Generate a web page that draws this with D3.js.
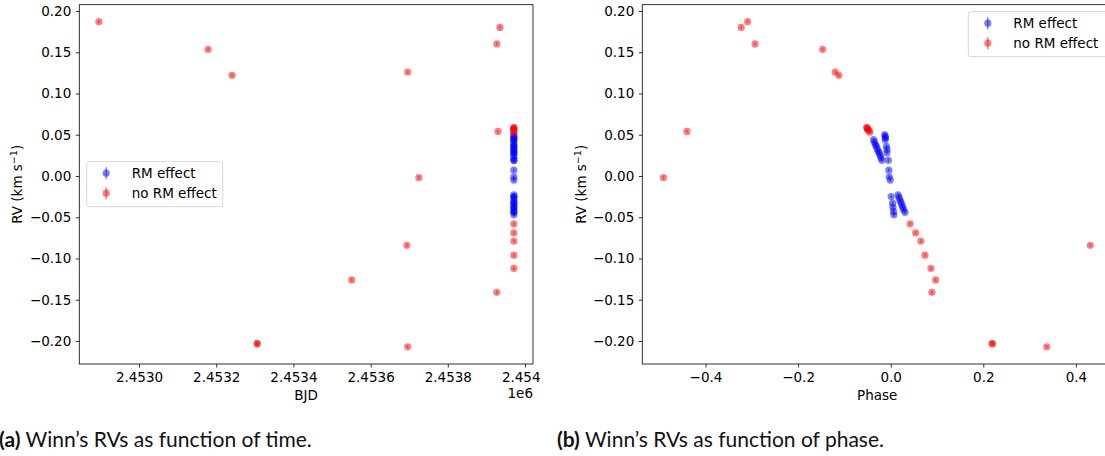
<!DOCTYPE html>
<html>
<head>
<meta charset="utf-8">
<script src="https://cdn.jsdelivr.net/npm/d3@7"></script>
<style>
  body { margin: 0; background: #fff; }
  svg text { font-family: "DejaVu Sans", sans-serif; fill: #000; }
  .caption { font-family: Lato, sans-serif; font-size: 21px; fill: #111; }
</style>
</head>
<body>
<svg id="chart" width="1105" height="456"></svg>
<script>
// Winn's RVs: points without RM effect (red) and during transit (blue)
const noRmBjd = [2452896, 2453179, 2453241, 2453306, 2453306, 2453551, 2453696, 2453694, 2453725, 2453696,
  2453927, 2453935, 2453930, 2453927, 2453971.2, 2453971.2, 2453971.2, 2453971.2, 2453971.2,
  2453971.0, 2453971.0, 2453971.0, 2453971.0, 2453971.0, 2453971.0];
const noRmPhase = [-0.309, -0.147, -0.112, 0.219, 0.220, 0.097, -0.120, 0.431, -0.491, 0.337,
  -0.293, -0.323, -0.440, 0.089, 0.042, 0.054, 0.065, 0.074, 0.087,
  -0.052, -0.051, -0.050, -0.049, -0.047, -0.045];
const noRmRv = [0.187, 0.1535, 0.122, -0.203, -0.2035, -0.126, 0.126, -0.084, -0.002, -0.207,
  0.160, 0.180, 0.054, -0.141, -0.058, -0.069, -0.079, -0.096, -0.112,
  0.059, 0.058, 0.057, 0.056, 0.055, 0.053];

const rmBjd = [2453971.05, 2453971.05, 2453971.06, 2453971.06, 2453971.07, 2453971.07, 2453971.07, 2453971.08,
  2453971.08, 2453971.09, 2453971.10, 2453971.10, 2453971.10, 2453971.10, 2453971.11, 2453971.11,
  2453971.11, 2453971.12, 2453971.12, 2453971.12, 2453971.12, 2453971.13, 2453971.13, 2453971.13,
  2453971.13, 2453971.14, 2453971.15, 2453971.15, 2453971.16, 2453971.16, 2453971.17, 2453971.17,
  2453971.18, 2453971.18];
const rmPhase = [-0.037, -0.035, -0.033, -0.031, -0.029, -0.027, -0.025, -0.023, -0.021, -0.019,
  -0.013, -0.012, -0.011, -0.012, -0.009, -0.008, -0.008, -0.005, -0.004, -0.003, -0.001,
  0.001, 0.004, 0.005, 0.006, 0.007, 0.016, 0.018, 0.020, 0.022, 0.024, 0.026, 0.028, 0.031];
const rmRv = [0.044, 0.041, 0.038, 0.036, 0.033, 0.030, 0.028, 0.025, 0.022, 0.019,
  0.050, 0.048, 0.046, 0.044, 0.036, 0.032, 0.028, 0.019, 0.007, -0.001, -0.005,
  -0.025, -0.033, -0.038, -0.043, -0.047, -0.023, -0.026, -0.029, -0.032, -0.035, -0.038, -0.041, -0.044];
const rvError = 0.002;

const yTicks = [-0.20, -0.15, -0.10, -0.05, 0.00, 0.05, 0.10, 0.15, 0.20];
const bjdTicks = [2453000, 2453200, 2453400, 2453600, 2453800, 2454000];
const phaseTicks = [-0.4, -0.2, 0.0, 0.2, 0.4];
const legendLabels = ["RM effect", "no RM effect"];
const captions = [["(a)", " Winn\u2019s RVs as function of time."], ["(b)", " Winn\u2019s RVs as function of phase."]];

const blue = "rgba(0,0,255,0.5)";
const red = "rgba(255,0,0,0.5)";

const svg = d3.select("#chart");

const yScale = d3.scaleLinear().domain([-0.2279, 0.2076]).range([364, 4.7]);

function panel(opts) {
  const g = svg.append("g");
  const clipId = "clip" + opts.id;
  svg.append("clipPath").attr("id", clipId + "p").append("rect")
    .attr("x", opts.clip[0]).attr("y", 0).attr("width", opts.clip[1] - opts.clip[0]).attr("height", 456);
  g.attr("clip-path", `url(#${clipId}p)`);

  const x = opts.x;
  const [x0, x1] = x.range();
  const [yb, yt] = yScale.range();

  // points
  const pts = g.append("g");
  function draw(xs, ys, col) {
    xs.forEach((xv, i) => {
      pts.append("line")
        .attr("x1", x(xv)).attr("x2", x(xv))
        .attr("y1", yScale(ys[i] - rvError)).attr("y2", yScale(ys[i] + rvError))
        .attr("stroke", col).attr("stroke-width", 1.5);
      pts.append("circle")
        .attr("cx", x(xv)).attr("cy", yScale(ys[i]))
        .attr("r", 3.6).attr("fill", col);
    });
  }
  draw(opts.blueX, rmRv, blue);
  draw(opts.redX, noRmRv, red);

  // spines
  g.append("rect").attr("x", x0).attr("y", yt).attr("width", x1 - x0).attr("height", yb - yt)
    .attr("fill", "none").attr("stroke", "#000").attr("stroke-width", 0.8);

  // axes
  const xAxis = d3.axisBottom(x).tickValues(opts.ticks).tickFormat(opts.fmt).tickSize(3.5).tickPadding(4.5);
  g.append("g").attr("transform", `translate(0,${yb})`).call(xAxis)
    .call(a => a.select(".domain").remove())
    .call(a => a.selectAll("text").attr("font-size", 13.5).attr("font-family", "DejaVu Sans"));

  const yAxis = d3.axisLeft(yScale).tickValues(yTicks).tickFormat(d3.format(".2f")).tickSize(3.5).tickPadding(4.5);
  g.append("g").attr("transform", `translate(${x0},0)`).call(yAxis)
    .call(a => a.select(".domain").remove())
    .call(a => a.selectAll("text").attr("font-size", 13.5).attr("font-family", "DejaVu Sans"));
  g.selectAll(".tick line").attr("stroke-width", 0.8);

  // axis labels
  g.append("text").attr("x", (x0 + x1) / 2).attr("y", 400).attr("text-anchor", "middle")
    .attr("font-size", 13.5).text(opts.xlabel);
  const yl = g.append("text").attr("transform", `translate(${opts.ylabelX},${(yt + yb) / 2}) rotate(-90)`)
    .attr("text-anchor", "middle").attr("font-size", 13.5);
  yl.append("tspan").text("RV (km s");
  yl.append("tspan").attr("dy", -5).attr("font-size", 9.5).text("\u22121");
  yl.append("tspan").attr("dy", 5).text(")");

  if (opts.offset) {
    g.append("text").attr("x", x1).attr("y", 398).attr("text-anchor", "end")
      .attr("font-size", 13.5).text(opts.offset);
  }

  // legend
  const L = opts.legend;
  const lg = g.append("g");
  lg.append("rect").attr("x", L.x).attr("y", L.y).attr("width", L.w).attr("height", 45)
    .attr("rx", 2.5).attr("fill", "rgba(255,255,255,0.8)").attr("stroke", "#ccc").attr("stroke-width", 0.8);
  [blue, red].forEach((col, i) => {
    const cy = L.y + 11.5 + i * 20;
    lg.append("line").attr("x1", L.x + 19.5).attr("x2", L.x + 19.5)
      .attr("y1", cy - 6).attr("y2", cy + 6).attr("stroke", col).attr("stroke-width", 1.5);
    lg.append("circle").attr("cx", L.x + 19.5).attr("cy", cy).attr("r", 3.6).attr("fill", col);
    lg.append("text").attr("x", L.x + 45).attr("y", cy + 5).attr("font-size", 13.5).text(legendLabels[i]);
  });
}

panel({
  id: "a",
  x: d3.scaleLinear().domain([2452845.3, 2454020.7]).range([79.3, 533]),
  clip: [0, 541],
  blueX: rmBjd, redX: noRmBjd,
  ticks: bjdTicks, fmt: d => (d / 1e6).toFixed(4),
  xlabel: "BJD", ylabelX: 22, offset: "1e6",
  legend: { x: 86.7, y: 161.7, w: 136 }
});

panel({
  id: "b",
  x: d3.scaleLinear().domain([-0.5365, 0.478]).range([642.3, 1112]),
  clip: [541, 1105],
  blueX: rmPhase, redX: noRmPhase,
  ticks: phaseTicks, fmt: d3.format(".1f"),
  xlabel: "Phase", ylabelX: 586,
  legend: { x: 968.3, y: 11.7, w: 140 }
});

// captions
captions.forEach((c, i) => {
  const t = svg.append("text").attr("class", "caption").attr("x", i === 0 ? -1 : 557).attr("y", 447);
  t.append("tspan").attr("font-weight", "bold").text(c[0]);
  t.append("tspan").text(c[1]);
});
</script>
</body>
</html>
